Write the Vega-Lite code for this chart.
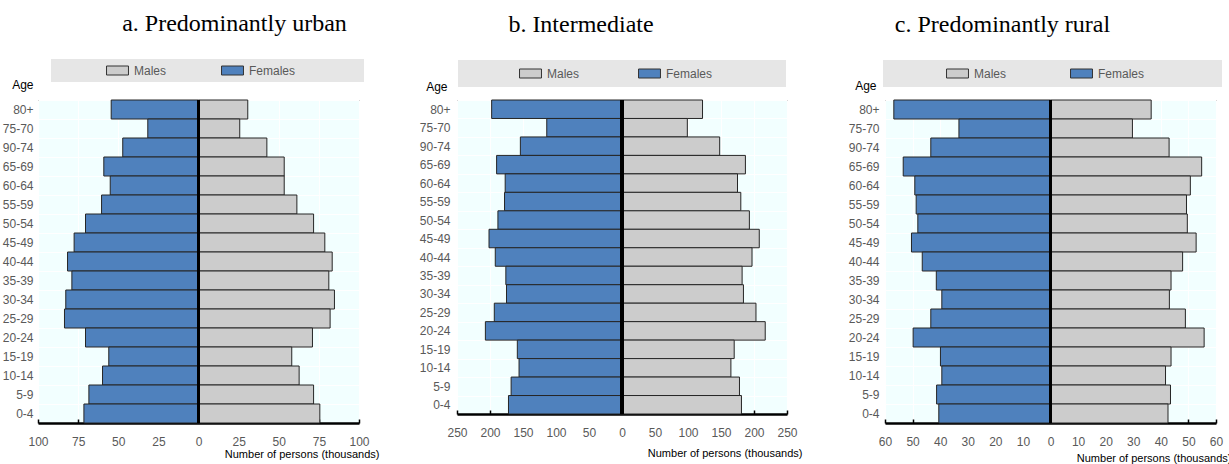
{
  "$schema": "https://vega.github.io/schema/vega-lite/v6.json",
  "background": "white",
  "padding": {"left": 1, "top": 11, "right": 0, "bottom": 0},
  "spacing": 98,
  "bounds": "flush",
  "datasets": {
    "urban": [
      {"age": "80+", "Females": 54.4, "Males": 30.7},
      {"age": "75-70", "Females": 31.6, "Males": 25.7},
      {"age": "90-74", "Females": 47.2, "Males": 42.6},
      {"age": "65-69", "Females": 59.0, "Males": 53.4},
      {"age": "60-64", "Females": 55.0, "Males": 53.4},
      {"age": "55-59", "Females": 60.4, "Males": 61.3},
      {"age": "50-54", "Females": 70.4, "Males": 71.7},
      {"age": "45-49", "Females": 77.5, "Males": 78.7},
      {"age": "40-44", "Females": 81.6, "Males": 83.3},
      {"age": "35-39", "Females": 78.9, "Males": 81.2},
      {"age": "30-34", "Females": 82.7, "Males": 84.7},
      {"age": "25-29", "Females": 83.5, "Males": 82.0},
      {"age": "20-24", "Females": 70.4, "Males": 71.0},
      {"age": "15-19", "Females": 55.9, "Males": 58.1},
      {"age": "10-14", "Females": 59.8, "Males": 62.7},
      {"age": "5-9", "Females": 68.3, "Males": 71.7},
      {"age": "0-4", "Females": 71.4, "Males": 75.6}
    ],
    "inter": [
      {"age": "80+", "Females": 197.5, "Males": 122},
      {"age": "75-70", "Females": 114, "Males": 99},
      {"age": "90-74", "Females": 154, "Males": 148},
      {"age": "65-69", "Females": 190, "Males": 187},
      {"age": "60-64", "Females": 177, "Males": 175},
      {"age": "55-59", "Females": 178, "Males": 180},
      {"age": "50-54", "Females": 188, "Males": 193},
      {"age": "45-49", "Females": 201.5, "Males": 208},
      {"age": "40-44", "Females": 192, "Males": 197},
      {"age": "35-39", "Females": 176, "Males": 182},
      {"age": "30-34", "Females": 175, "Males": 184},
      {"age": "25-29", "Females": 193.5, "Males": 203},
      {"age": "20-24", "Females": 207, "Males": 217},
      {"age": "15-19", "Females": 158.6, "Males": 170},
      {"age": "10-14", "Females": 156, "Males": 165},
      {"age": "5-9", "Females": 168, "Males": 178},
      {"age": "0-4", "Females": 172, "Males": 181}
    ],
    "rural": [
      {"age": "80+", "Females": 56.8, "Males": 36.5},
      {"age": "75-70", "Females": 33.2, "Males": 29.7},
      {"age": "90-74", "Females": 43.4, "Males": 43.0},
      {"age": "65-69", "Females": 53.4, "Males": 54.8},
      {"age": "60-64", "Females": 49.2, "Males": 50.7},
      {"age": "55-59", "Females": 48.7, "Males": 49.3},
      {"age": "50-54", "Females": 48.1, "Males": 49.6},
      {"age": "45-49", "Females": 50.4, "Males": 52.8},
      {"age": "40-44", "Females": 46.5, "Males": 47.9},
      {"age": "35-39", "Females": 41.4, "Males": 43.7},
      {"age": "30-34", "Females": 39.4, "Males": 43.1},
      {"age": "25-29", "Females": 43.4, "Males": 48.9},
      {"age": "20-24", "Females": 49.8, "Males": 55.7},
      {"age": "15-19", "Females": 39.9, "Males": 43.7},
      {"age": "10-14", "Females": 39.4, "Males": 41.7},
      {"age": "5-9", "Females": 41.3, "Males": 43.5},
      {"age": "0-4", "Females": 40.5, "Males": 42.6}
    ]
  },
  "hconcat": [
    {
      "width": 321,
      "height": 323,
      "title": {"text": "a. Predominantly urban", "dx": 36, "offset": 23},
      "data": {"name": "urban"},
      "transform": [
        {"fold": ["Males", "Females"], "as": ["sex", "persons"]},
        {"calculate": "datum.sex == 'Females' ? -datum.persons : datum.persons", "as": "signed"}
      ],
      "layer": [
        {
          "mark": {"type": "bar", "stroke": "#262626", "strokeWidth": 1},
          "encoding": {
            "y": {"field": "age", "type": "nominal", "sort": null, "scale": {"paddingInner": 0, "paddingOuter": 0},
              "axis": {"title": "Age", "titleX": -5, "titleY": -16, "labelPadding": 5}},
            "x": {"field": "signed", "type": "quantitative", "stack": null, "scale": {"domain": [-100, 100], "nice": false},
              "axis": {"values": [-100, -75, -50, -25, 0, 25, 50, 75, 100], "tickCount": 30, "labelOverlap": false, "title": "Number of persons (thousands)", "titleX": 341, "titleY": 31}},
            "color": {"field": "sex", "type": "nominal", "scale": {"domain": ["Males", "Females"], "range": ["#CCCCCC", "#4F81BD"]},
              "legend": {"title": "\u200b", "legendX": 13, "legendY": -41, "padding": 5, "titlePadding": 50, "columnPadding": 52,
                "labelExpr": "datum.label == 'Females' ? datum.label + '\u00a0\u00a0\u00a0\u00a0\u00a0\u00a0\u00a0\u00a0\u00a0\u00a0\u00a0\u00a0\u00a0\u00a0\u00a0\u00a0\u00a0\u00a0\u00a0\u200b' : datum.label"}}
          }
        },
        {"mark": {"type": "rule", "color": "black", "strokeWidth": 2.5}, "encoding": {"x": {"datum": 0}}}
      ]
    },
    {
      "width": 330,
      "height": 314,
      "title": {"text": "b. Intermediate", "dx": -41, "offset": 23},
      "data": {"name": "inter"},
      "transform": [
        {"fold": ["Males", "Females"], "as": ["sex", "persons"]},
        {"calculate": "datum.sex == 'Females' ? -datum.persons : datum.persons", "as": "signed"}
      ],
      "layer": [
        {
          "mark": {"type": "bar", "stroke": "#262626", "strokeWidth": 1},
          "encoding": {
            "y": {"field": "age", "type": "nominal", "sort": null, "scale": {"paddingInner": 0, "paddingOuter": 0},
              "axis": {"title": "Age", "titleX": -10, "titleY": -14, "labelPadding": 7}},
            "x": {"field": "signed", "type": "quantitative", "stack": null, "scale": {"domain": [-250, 250], "nice": false},
              "axis": {"values": [-250, -200, -150, -100, -50, 0, 50, 100, 150, 200, 250], "tickCount": 30, "labelOverlap": false, "title": "Number of persons (thousands)", "titleX": 345, "titleY": 39}},
            "color": {"field": "sex", "type": "nominal", "scale": {"domain": ["Males", "Females"], "range": ["#CCCCCC", "#4F81BD"]},
              "legend": {"title": "\u200b", "legendX": 1, "legendY": -40, "padding": 7, "titlePadding": 54, "columnPadding": 56,
                "labelExpr": "datum.label == 'Females' ? datum.label + '\u00a0\u00a0\u00a0\u00a0\u00a0\u00a0\u00a0\u00a0\u00a0\u00a0\u00a0\u00a0\u00a0\u00a0\u00a0\u00a0\u00a0\u00a0\u00a0\u00a0\u200b' : datum.label"}}
          }
        },
        {"mark": {"type": "rule", "color": "black", "strokeWidth": 2.5}, "encoding": {"x": {"datum": 0}}}
      ]
    },
    {
      "width": 331,
      "height": 323,
      "title": {"text": "c. Predominantly rural", "dx": -48, "offset": 23},
      "data": {"name": "rural"},
      "transform": [
        {"fold": ["Males", "Females"], "as": ["sex", "persons"]},
        {"calculate": "datum.sex == 'Females' ? -datum.persons : datum.persons", "as": "signed"}
      ],
      "layer": [
        {
          "mark": {"type": "bar", "stroke": "#262626", "strokeWidth": 1},
          "encoding": {
            "y": {"field": "age", "type": "nominal", "sort": null, "scale": {"paddingInner": 0, "paddingOuter": 0},
              "axis": {"title": "Age", "titleX": -9, "titleY": -15, "labelPadding": 6}},
            "x": {"field": "signed", "type": "quantitative", "stack": null, "scale": {"domain": [-60, 60], "nice": false},
              "axis": {"values": [-60, -50, -40, -30, -20, -10, 0, 10, 20, 30, 40, 50, 60], "tickCount": 30, "labelOverlap": false, "title": "Number of persons (thousands)", "titleX": 346, "titleY": 35}},
            "color": {"field": "sex", "type": "nominal", "scale": {"domain": ["Males", "Females"], "range": ["#CCCCCC", "#4F81BD"]},
              "legend": {"title": "\u200b", "legendX": -2, "legendY": -40, "padding": 7, "titlePadding": 56, "columnPadding": 61,
                "labelExpr": "datum.label == 'Females' ? datum.label + '\u00a0\u00a0\u00a0\u00a0\u00a0\u00a0\u00a0\u00a0\u00a0\u00a0\u00a0\u00a0\u00a0\u00a0\u00a0\u00a0\u00a0\u00a0\u00a0\u00a0\u00a0\u200b' : datum.label"}}
          }
        },
        {"mark": {"type": "rule", "color": "black", "strokeWidth": 2.5}, "encoding": {"x": {"datum": 0}}}
      ]
    }
  ],
  "resolve": {"legend": {"color": "independent"}},
  "config": {
    "view": {"fill": "#F2FFFF", "stroke": "#333333", "strokeWidth": 1},
    "title": {"font": "Liberation Serif", "fontSize": 24, "fontWeight": "normal", "color": "black", "anchor": "middle", "frame": "group", "baseline": "alphabetic"},
    "axis": {
      "labelFont": "Liberation Sans",
      "titleFont": "Liberation Sans",
      "labelColor": "#595959",
      "labelFontSize": 12,
      "titleColor": "black",
      "titleFontWeight": "normal",
      "gridColor": "white",
      "gridWidth": 1,
      "gridOpacity": 1
    },
    "axisY": {
      "titleAngle": 0,
      "titleAlign": "right",
      "titleBaseline": "middle",
      "titleFontSize": 12,
      "ticks": false,
      "domain": false,
      "grid": true,
      "tickBand": "extent"
    },
    "axisX": {
      "labelExpr": "abs(datum.value)",
      "labelFlush": false,
      "labelBaseline": "middle",
      "labelPadding": 22,
      "grid": true,
      "domainColor": "black",
      "domainWidth": 2.5,
      "tickColor": "black",
      "tickWidth": 1.5,
      "tickSize": -4,
      "titleFontSize": 11,
      "titleAlign": "right",
      "titleBaseline": "middle",
      "titleAnchor": null
    },
    "legend": {
      "orient": "none",
      "direction": "horizontal",
      "titleOrient": "left",
      "titleFontSize": 10,
      "fillColor": "#E6E6E6",
      "labelFont": "Liberation Sans",
      "labelFontSize": 12,
      "labelColor": "#595959",
      "symbolType": "M-1.83,-0.75H1.83V0.75H-1.83Z",
      "symbolSize": 144,
      "symbolOffset": 5,
      "labelOffset": 10,
      "symbolStrokeColor": "#333333",
      "symbolStrokeWidth": 1,
      "symbolOpacity": 1
    }
  }
}
